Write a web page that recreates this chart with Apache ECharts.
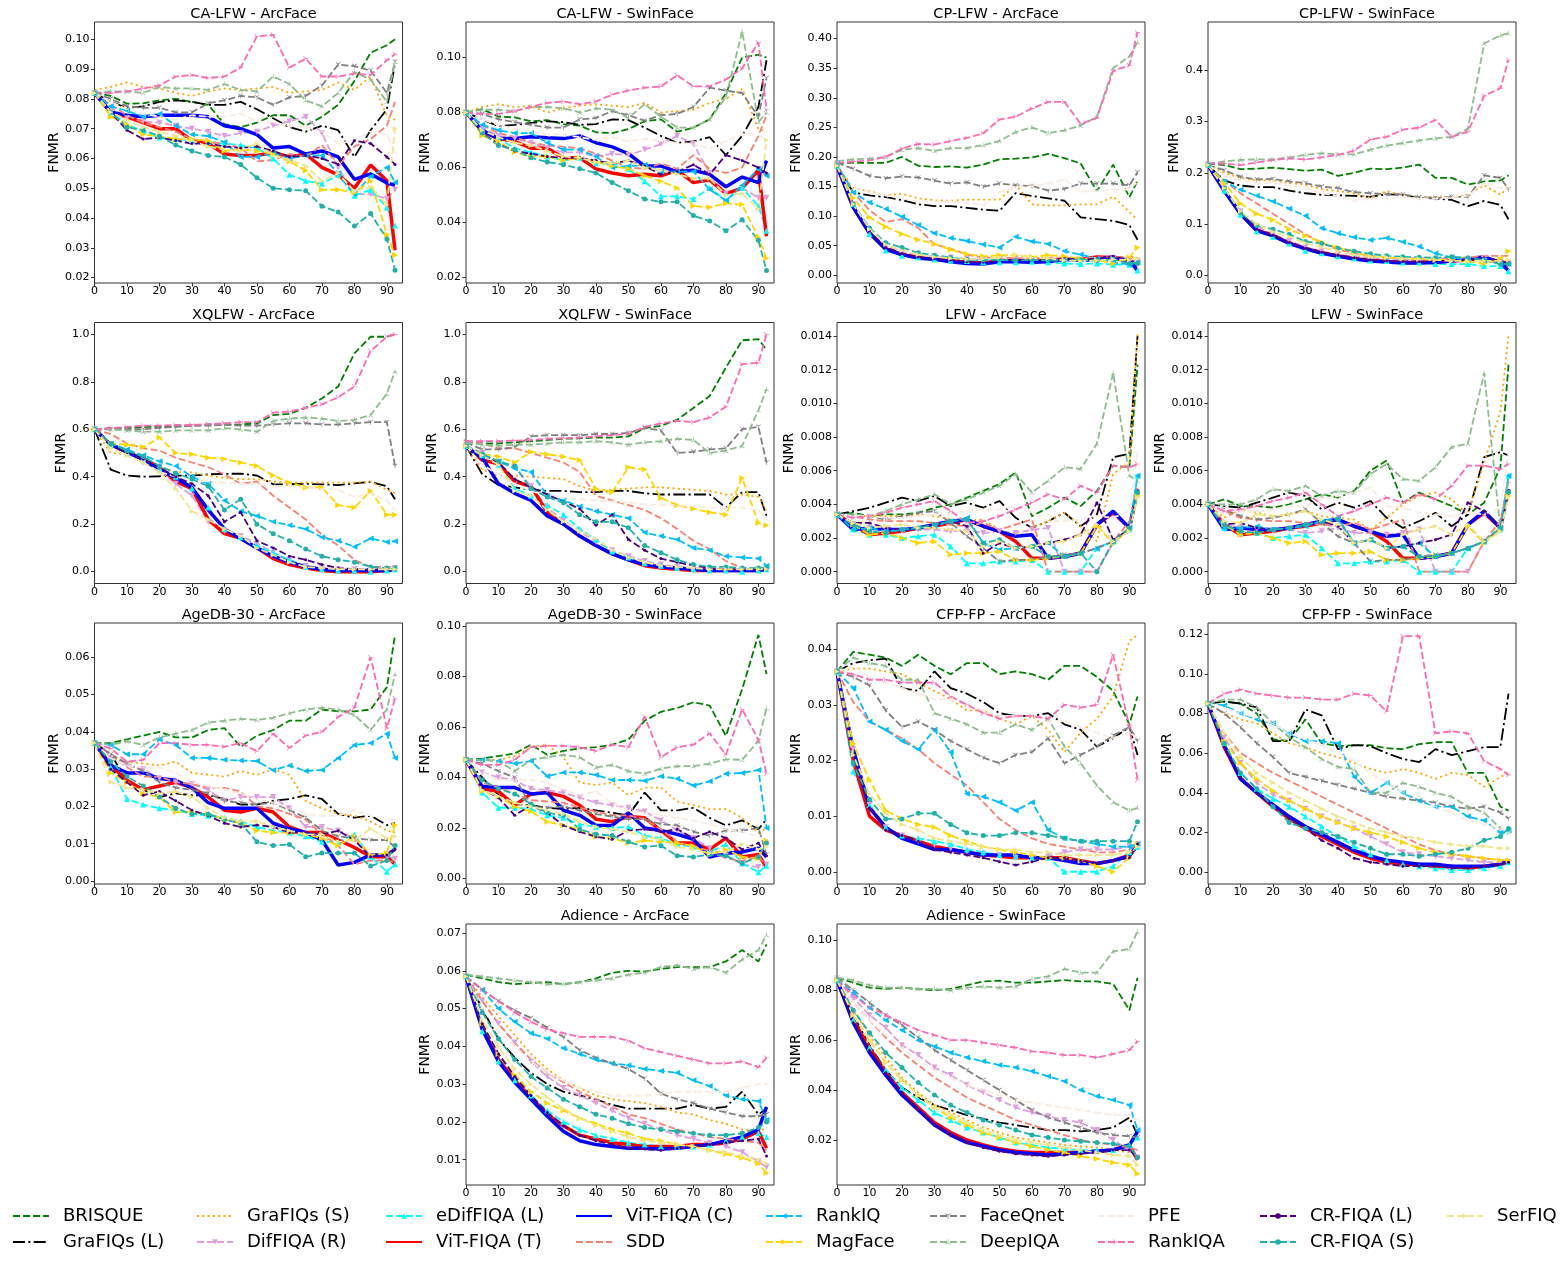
<!DOCTYPE html>
<html><head><meta charset="utf-8">
<script src="https://cdn.jsdelivr.net/npm/echarts@6.0.0/dist/echarts.min.js"></script>
<style>html,body{margin:0;padding:0;background:#fff}#c{width:1562px;height:1263px}</style>
</head><body><div id="c"></div><script>
const FONT = 'DejaVu Sans';
const rejectionRates = [0,5,10,15,20,25,30,35,40,45,50,55,60,65,70,75,80,85,90,92.5];
const methods = ['BRISQUE','GraFIQs (L)','GraFIQs (S)','DifFIQA (R)','eDifFIQA (L)','ViT-FIQA (T)','ViT-FIQA (C)','SDD','RankIQ','MagFace','FaceQnet','DeepIQA','PFE','RankIQA','CR-FIQA (L)','CR-FIQA (S)','SerFIQ'];
const xTickValues = [0,10,20,30,40,50,60,70,80,90];

const yTicks_CA_LFW_ArcFace = [0.02,0.03,0.04,0.05,0.06,0.07,0.08,0.09,0.10];
const yTicks_CA_LFW_SwinFace = [0.02,0.04,0.06,0.08,0.10];
const yTicks_CP_LFW_ArcFace = [0,0.05,0.10,0.15,0.20,0.25,0.30,0.35,0.40];
const yTicks_CP_LFW_SwinFace = [0,0.1,0.2,0.3,0.4];
const yTicks_XQLFW = [0,0.2,0.4,0.6,0.8,1.0];
const yTicks_LFW = [0,0.002,0.004,0.006,0.008,0.010,0.012,0.014];
const yTicks_AgeDB_ArcFace = [0,0.01,0.02,0.03,0.04,0.05,0.06];
const yTicks_AgeDB_SwinFace = [0,0.02,0.04,0.06,0.08,0.10];
const yTicks_CFP_FP_ArcFace = [0,0.01,0.02,0.03,0.04];
const yTicks_CFP_FP_SwinFace = [0,0.02,0.04,0.06,0.08,0.10,0.12];
const yTicks_Adience_ArcFace = [0.01,0.02,0.03,0.04,0.05,0.06,0.07];
const yTicks_Adience_SwinFace = [0.02,0.04,0.06,0.08,0.10];

// each row follows the order of `methods`
const CA_LFW_ArcFace = [
[0.082,0.081,0.0784,0.0785,0.0795,0.080,0.079,0.078,0.0715,0.0705,0.072,0.0745,0.0745,0.071,0.074,0.078,0.086,0.0955,0.098,0.100],
[0.082,0.079,0.077,0.0775,0.079,0.0795,0.079,0.078,0.078,0.079,0.0765,0.0735,0.0705,0.069,0.071,0.0695,0.0605,0.0695,0.0765,0.092],
[0.083,0.084,0.0855,0.084,0.0835,0.082,0.081,0.0825,0.0835,0.083,0.0835,0.084,0.082,0.0825,0.083,0.0855,0.083,0.0875,0.074,0.073],
[0.082,0.077,0.0735,0.0725,0.072,0.071,0.070,0.069,0.0675,0.0685,0.069,0.071,0.0725,0.074,0.0685,0.057,0.048,0.048,0.0465,0.0495],
[0.082,0.0755,0.0715,0.069,0.067,0.0665,0.066,0.0655,0.065,0.0645,0.0635,0.060,0.0545,0.0525,0.0515,0.0545,0.0475,0.0495,0.0435,0.0375],
[0.082,0.0755,0.074,0.072,0.070,0.070,0.066,0.065,0.0615,0.061,0.061,0.062,0.0605,0.0615,0.057,0.0545,0.050,0.0578,0.0525,0.0292],
[0.082,0.0755,0.0745,0.074,0.0745,0.0745,0.0745,0.074,0.071,0.070,0.068,0.0635,0.064,0.0615,0.0625,0.0605,0.053,0.0548,0.0518,0.051],
[0.082,0.078,0.0745,0.072,0.0705,0.069,0.0665,0.0655,0.065,0.0635,0.059,0.0595,0.0615,0.0605,0.0645,0.0575,0.064,0.0665,0.071,0.079],
[0.082,0.0775,0.076,0.074,0.075,0.071,0.068,0.0675,0.0655,0.0605,0.0605,0.062,0.060,0.061,0.061,0.055,0.048,0.054,0.057,0.052],
[0.082,0.074,0.0715,0.068,0.0675,0.0665,0.0665,0.066,0.0625,0.063,0.0625,0.0615,0.059,0.056,0.0495,0.0495,0.0485,0.0525,0.0345,0.0275],
[0.082,0.080,0.0775,0.077,0.077,0.0755,0.0755,0.0785,0.0795,0.081,0.0805,0.078,0.0805,0.081,0.0845,0.0915,0.091,0.0895,0.082,0.0925],
[0.082,0.0825,0.0825,0.082,0.084,0.0835,0.0835,0.083,0.085,0.083,0.0825,0.0875,0.085,0.0795,0.0775,0.082,0.089,0.0865,0.079,0.0925],
[0.082,0.079,0.0765,0.075,0.074,0.073,0.0745,0.074,0.074,0.075,0.0725,0.072,0.071,0.0705,0.069,0.065,0.066,0.069,0.068,0.062],
[0.082,0.082,0.0825,0.0835,0.0845,0.0875,0.088,0.087,0.0875,0.0905,0.101,0.1015,0.0905,0.0935,0.0875,0.0875,0.0885,0.088,0.093,0.095],
[0.082,0.0755,0.0695,0.0665,0.067,0.066,0.065,0.065,0.064,0.0635,0.064,0.0625,0.0605,0.061,0.060,0.058,0.066,0.065,0.0605,0.058],
[0.082,0.0755,0.0705,0.0695,0.0675,0.0645,0.0625,0.061,0.0605,0.058,0.0535,0.050,0.0495,0.0492,0.044,0.042,0.0373,0.0415,0.033,0.0225],
[0.082,0.0755,0.073,0.0705,0.069,0.0675,0.066,0.064,0.063,0.0625,0.065,0.061,0.0595,0.0575,0.0525,0.055,0.049,0.0505,0.0445,0.070]
];
const CA_LFW_SwinFace = [
[0.080,0.0812,0.0785,0.0782,0.0768,0.0772,0.0758,0.0752,0.0728,0.0725,0.074,0.0768,0.0775,0.073,0.0745,0.0775,0.087,0.100,0.101,0.100],
[0.080,0.0775,0.075,0.0755,0.0762,0.0768,0.0765,0.0755,0.0758,0.0775,0.0772,0.0745,0.0715,0.069,0.0695,0.071,0.0645,0.0715,0.082,0.099],
[0.080,0.082,0.083,0.082,0.0825,0.080,0.0815,0.0825,0.083,0.0825,0.082,0.0835,0.080,0.0805,0.081,0.0835,0.085,0.0885,0.074,0.073],
[0.080,0.0745,0.0715,0.0705,0.069,0.067,0.0655,0.0655,0.064,0.065,0.0645,0.0665,0.0685,0.0715,0.0685,0.058,0.0505,0.0525,0.049,0.049],
[0.080,0.0735,0.0705,0.067,0.0655,0.064,0.0625,0.0635,0.0615,0.0615,0.0595,0.055,0.0495,0.0495,0.0485,0.0525,0.048,0.0525,0.046,0.037],
[0.080,0.073,0.0705,0.0695,0.067,0.067,0.0635,0.0635,0.0595,0.058,0.057,0.0575,0.057,0.059,0.0545,0.0555,0.0505,0.0525,0.059,0.035],
[0.080,0.0735,0.0705,0.0705,0.0712,0.0708,0.0705,0.0715,0.069,0.0675,0.065,0.0605,0.0605,0.0585,0.059,0.0575,0.053,0.0565,0.0545,0.0625],
[0.080,0.0755,0.0725,0.071,0.069,0.068,0.0675,0.067,0.065,0.0625,0.060,0.0595,0.0615,0.0595,0.0645,0.0595,0.058,0.060,0.0715,0.079],
[0.080,0.0755,0.0735,0.0725,0.0725,0.069,0.0665,0.0665,0.064,0.060,0.0605,0.061,0.0585,0.0585,0.0585,0.052,0.048,0.0535,0.0595,0.057],
[0.080,0.0715,0.0695,0.0655,0.064,0.064,0.0625,0.0635,0.062,0.0605,0.0595,0.057,0.055,0.0525,0.046,0.0455,0.047,0.0465,0.0345,0.027],
[0.080,0.0795,0.0775,0.0765,0.0755,0.0745,0.0745,0.0775,0.078,0.0805,0.079,0.077,0.079,0.0795,0.082,0.089,0.088,0.087,0.0785,0.0925],
[0.080,0.081,0.081,0.0805,0.082,0.082,0.0815,0.080,0.0815,0.081,0.078,0.083,0.0785,0.0745,0.0745,0.0775,0.0855,0.1095,0.0765,0.080],
[0.080,0.0775,0.0755,0.074,0.073,0.072,0.072,0.071,0.070,0.071,0.0695,0.0705,0.0695,0.069,0.0685,0.067,0.0695,0.072,0.072,0.0695],
[0.080,0.0795,0.0795,0.0805,0.082,0.0835,0.084,0.083,0.084,0.0865,0.088,0.089,0.0895,0.0935,0.0895,0.0895,0.092,0.096,0.1055,0.081],
[0.080,0.0725,0.0685,0.066,0.065,0.064,0.0635,0.0635,0.0625,0.0615,0.0625,0.0605,0.0575,0.0585,0.061,0.0575,0.0645,0.0625,0.060,0.058],
[0.080,0.0725,0.068,0.0665,0.0635,0.062,0.061,0.0595,0.058,0.0545,0.0515,0.0485,0.0475,0.0475,0.0425,0.0405,0.037,0.041,0.0335,0.0225],
[0.080,0.0735,0.071,0.069,0.068,0.066,0.064,0.0635,0.062,0.0615,0.0625,0.060,0.059,0.0575,0.056,0.056,0.050,0.0505,0.045,0.070]
];
const CP_LFW_ArcFace = [
[0.19,0.19,0.19,0.19,0.20,0.185,0.183,0.184,0.182,0.187,0.196,0.197,0.199,0.205,0.198,0.189,0.142,0.187,0.132,0.16],
[0.185,0.14,0.135,0.132,0.127,0.12,0.117,0.117,0.114,0.111,0.109,0.139,0.134,0.13,0.126,0.098,0.095,0.092,0.085,0.06],
[0.185,0.148,0.142,0.135,0.138,0.13,0.127,0.126,0.128,0.128,0.128,0.153,0.12,0.118,0.118,0.12,0.12,0.133,0.107,0.094],
[0.185,0.12,0.075,0.05,0.04,0.035,0.032,0.03,0.028,0.027,0.027,0.028,0.026,0.025,0.024,0.025,0.026,0.028,0.024,0.025],
[0.185,0.12,0.07,0.042,0.033,0.03,0.027,0.025,0.024,0.022,0.022,0.022,0.023,0.022,0.02,0.019,0.02,0.018,0.018,0.008],
[0.185,0.115,0.072,0.045,0.035,0.03,0.027,0.025,0.022,0.021,0.024,0.024,0.023,0.025,0.027,0.027,0.031,0.03,0.022,0.017],
[0.185,0.115,0.071,0.044,0.035,0.029,0.027,0.023,0.02,0.019,0.023,0.023,0.022,0.023,0.027,0.025,0.027,0.031,0.025,0.008],
[0.19,0.14,0.11,0.09,0.095,0.08,0.052,0.045,0.035,0.03,0.03,0.029,0.028,0.03,0.03,0.029,0.03,0.031,0.031,0.03],
[0.19,0.14,0.123,0.112,0.099,0.085,0.071,0.063,0.058,0.052,0.047,0.065,0.057,0.053,0.041,0.035,0.028,0.022,0.018,0.022],
[0.185,0.13,0.098,0.082,0.07,0.06,0.053,0.043,0.036,0.032,0.034,0.034,0.031,0.034,0.032,0.028,0.026,0.02,0.03,0.047],
[0.19,0.18,0.168,0.164,0.167,0.165,0.16,0.155,0.157,0.15,0.155,0.152,0.151,0.143,0.146,0.155,0.155,0.155,0.152,0.174],
[0.193,0.196,0.197,0.2,0.212,0.215,0.21,0.215,0.215,0.22,0.227,0.242,0.25,0.24,0.245,0.253,0.268,0.35,0.37,0.394],
[0.19,0.15,0.14,0.135,0.13,0.125,0.125,0.125,0.122,0.118,0.14,0.15,0.15,0.155,0.162,0.142,0.142,0.145,0.145,0.158],
[0.19,0.192,0.194,0.2,0.214,0.222,0.221,0.227,0.232,0.24,0.263,0.268,0.282,0.293,0.293,0.256,0.266,0.345,0.355,0.41],
[0.185,0.12,0.075,0.047,0.037,0.031,0.028,0.026,0.023,0.022,0.025,0.026,0.025,0.026,0.028,0.027,0.028,0.032,0.026,0.022],
[0.185,0.12,0.08,0.055,0.047,0.038,0.034,0.03,0.027,0.026,0.026,0.025,0.026,0.025,0.025,0.026,0.025,0.027,0.02,0.02],
[0.185,0.12,0.078,0.052,0.042,0.035,0.031,0.029,0.027,0.028,0.03,0.035,0.03,0.029,0.025,0.024,0.025,0.027,0.026,0.028]
];
const CP_LFW_SwinFace = [
[0.218,0.215,0.207,0.208,0.21,0.207,0.204,0.206,0.194,0.2,0.208,0.207,0.21,0.216,0.19,0.19,0.177,0.183,0.185,0.195],
[0.215,0.185,0.175,0.172,0.172,0.165,0.16,0.157,0.156,0.155,0.153,0.158,0.157,0.151,0.15,0.147,0.135,0.145,0.137,0.109],
[0.215,0.2,0.19,0.185,0.185,0.18,0.177,0.168,0.164,0.16,0.151,0.164,0.157,0.152,0.153,0.152,0.157,0.176,0.157,0.172],
[0.215,0.17,0.125,0.095,0.08,0.067,0.055,0.047,0.04,0.037,0.034,0.032,0.03,0.03,0.03,0.028,0.03,0.033,0.027,0.025],
[0.215,0.165,0.118,0.086,0.075,0.062,0.048,0.043,0.037,0.033,0.029,0.028,0.025,0.025,0.022,0.022,0.022,0.018,0.018,0.008],
[0.215,0.165,0.12,0.088,0.078,0.063,0.052,0.044,0.038,0.033,0.029,0.027,0.025,0.025,0.026,0.028,0.03,0.033,0.025,0.02],
[0.215,0.165,0.12,0.087,0.077,0.062,0.052,0.043,0.037,0.032,0.028,0.026,0.024,0.024,0.025,0.028,0.032,0.036,0.025,0.009],
[0.215,0.185,0.16,0.14,0.12,0.1,0.08,0.063,0.05,0.043,0.038,0.035,0.033,0.033,0.033,0.033,0.035,0.038,0.038,0.038],
[0.215,0.183,0.167,0.155,0.144,0.13,0.116,0.092,0.082,0.074,0.069,0.073,0.065,0.056,0.043,0.035,0.03,0.029,0.022,0.022],
[0.215,0.18,0.14,0.12,0.108,0.09,0.077,0.064,0.054,0.045,0.037,0.035,0.033,0.032,0.03,0.03,0.027,0.023,0.032,0.047],
[0.215,0.205,0.192,0.187,0.188,0.183,0.18,0.173,0.17,0.162,0.16,0.158,0.158,0.152,0.151,0.153,0.153,0.195,0.19,0.168],
[0.218,0.222,0.225,0.226,0.226,0.23,0.235,0.238,0.236,0.236,0.245,0.253,0.258,0.263,0.267,0.27,0.286,0.452,0.468,0.472],
[0.215,0.195,0.185,0.18,0.18,0.175,0.17,0.16,0.155,0.145,0.15,0.15,0.152,0.15,0.15,0.152,0.155,0.18,0.17,0.17],
[0.218,0.218,0.215,0.22,0.225,0.228,0.226,0.23,0.235,0.243,0.265,0.27,0.284,0.288,0.303,0.27,0.28,0.35,0.365,0.42],
[0.215,0.17,0.122,0.09,0.078,0.064,0.053,0.045,0.039,0.034,0.03,0.028,0.027,0.027,0.028,0.028,0.03,0.034,0.028,0.025],
[0.215,0.17,0.122,0.097,0.09,0.08,0.066,0.062,0.053,0.047,0.042,0.038,0.036,0.035,0.034,0.036,0.034,0.03,0.022,0.022],
[0.215,0.17,0.125,0.1,0.085,0.075,0.063,0.055,0.047,0.04,0.037,0.035,0.033,0.032,0.03,0.028,0.028,0.028,0.028,0.03]
];
const XQLFW_ArcFace = [
[0.6,0.605,0.605,0.61,0.61,0.612,0.615,0.62,0.62,0.62,0.625,0.66,0.665,0.69,0.73,0.78,0.92,0.99,0.99,1.0],
[0.6,0.43,0.405,0.4,0.402,0.405,0.405,0.41,0.412,0.413,0.405,0.368,0.368,0.37,0.368,0.365,0.372,0.378,0.36,0.305],
[0.6,0.5,0.495,0.475,0.44,0.42,0.418,0.405,0.395,0.39,0.39,0.38,0.375,0.375,0.375,0.375,0.375,0.38,0.345,0.33],
[0.6,0.53,0.5,0.46,0.43,0.37,0.32,0.21,0.17,0.15,0.12,0.08,0.05,0.025,0.015,0.01,0.01,0.01,0.01,0.015],
[0.6,0.535,0.5,0.47,0.43,0.4,0.35,0.27,0.18,0.145,0.11,0.08,0.05,0.02,0.01,0.005,0.005,0.0,0.005,0.01],
[0.6,0.535,0.505,0.475,0.44,0.38,0.35,0.22,0.16,0.14,0.1,0.055,0.03,0.015,0.005,0.0,0.0,0.0,0.005,0.01],
[0.6,0.535,0.505,0.47,0.43,0.395,0.355,0.26,0.18,0.14,0.1,0.065,0.04,0.02,0.01,0.005,0.005,0.005,0.005,0.01],
[0.6,0.58,0.54,0.52,0.51,0.48,0.46,0.44,0.41,0.37,0.38,0.32,0.27,0.22,0.155,0.11,0.05,0.02,0.02,0.02],
[0.6,0.54,0.515,0.49,0.465,0.445,0.4,0.37,0.3,0.255,0.235,0.21,0.195,0.18,0.145,0.13,0.105,0.14,0.125,0.128],
[0.6,0.54,0.535,0.525,0.565,0.5,0.495,0.48,0.475,0.46,0.445,0.405,0.375,0.355,0.355,0.28,0.27,0.34,0.24,0.24],
[0.6,0.6,0.6,0.6,0.605,0.61,0.615,0.615,0.62,0.615,0.615,0.62,0.625,0.625,0.62,0.62,0.625,0.63,0.63,0.445],
[0.6,0.6,0.595,0.59,0.59,0.595,0.595,0.595,0.605,0.6,0.59,0.635,0.645,0.65,0.645,0.635,0.64,0.66,0.75,0.845],
[0.6,0.52,0.49,0.46,0.42,0.4,0.385,0.38,0.375,0.37,0.37,0.36,0.36,0.355,0.35,0.345,0.315,0.33,0.3,0.26],
[0.6,0.605,0.61,0.615,0.615,0.618,0.618,0.622,0.625,0.63,0.63,0.67,0.675,0.69,0.705,0.735,0.78,0.93,0.99,1.0],
[0.6,0.535,0.5,0.475,0.44,0.4,0.37,0.32,0.21,0.25,0.13,0.1,0.065,0.05,0.03,0.015,0.01,0.01,0.01,0.01],
[0.6,0.54,0.51,0.485,0.445,0.415,0.39,0.36,0.26,0.305,0.2,0.16,0.13,0.095,0.065,0.05,0.04,0.02,0.015,0.015],
[0.6,0.52,0.49,0.46,0.42,0.35,0.255,0.22,0.18,0.15,0.1,0.07,0.04,0.02,0.015,0.01,0.01,0.01,0.01,0.01]
];
const XQLFW_SwinFace = [
[0.545,0.54,0.54,0.545,0.55,0.555,0.56,0.562,0.565,0.565,0.57,0.605,0.615,0.64,0.69,0.74,0.86,0.975,0.98,0.935],
[0.53,0.41,0.365,0.355,0.345,0.34,0.34,0.335,0.335,0.34,0.34,0.33,0.325,0.325,0.325,0.325,0.27,0.335,0.335,0.235],
[0.53,0.43,0.405,0.405,0.4,0.395,0.39,0.36,0.34,0.345,0.35,0.355,0.355,0.35,0.345,0.34,0.325,0.325,0.315,0.26],
[0.53,0.5,0.46,0.44,0.36,0.27,0.215,0.17,0.125,0.09,0.065,0.045,0.03,0.02,0.015,0.01,0.01,0.01,0.01,0.01],
[0.53,0.49,0.45,0.35,0.32,0.28,0.24,0.18,0.135,0.085,0.06,0.035,0.025,0.015,0.01,0.005,0.005,0.0,0.005,0.01],
[0.53,0.47,0.455,0.38,0.36,0.25,0.2,0.15,0.11,0.075,0.05,0.025,0.015,0.01,0.005,0.005,0.005,0.005,0.005,0.01],
[0.525,0.48,0.37,0.33,0.3,0.235,0.2,0.15,0.11,0.075,0.05,0.03,0.02,0.015,0.01,0.005,0.005,0.005,0.005,0.01],
[0.545,0.54,0.52,0.52,0.5,0.48,0.46,0.42,0.32,0.3,0.28,0.26,0.225,0.18,0.13,0.095,0.045,0.015,0.015,0.015],
[0.53,0.49,0.465,0.435,0.42,0.32,0.3,0.275,0.255,0.24,0.225,0.165,0.15,0.135,0.1,0.09,0.065,0.06,0.055,0.025],
[0.53,0.495,0.485,0.46,0.505,0.495,0.485,0.47,0.35,0.335,0.44,0.43,0.31,0.28,0.265,0.25,0.24,0.395,0.205,0.195],
[0.545,0.515,0.515,0.525,0.57,0.575,0.575,0.575,0.58,0.58,0.585,0.605,0.595,0.5,0.505,0.515,0.52,0.6,0.61,0.46],
[0.545,0.535,0.53,0.535,0.535,0.54,0.545,0.545,0.55,0.545,0.535,0.545,0.55,0.56,0.555,0.5,0.51,0.53,0.68,0.77],
[0.53,0.45,0.41,0.37,0.34,0.32,0.31,0.305,0.3,0.295,0.29,0.285,0.28,0.28,0.275,0.27,0.27,0.27,0.26,0.22],
[0.55,0.55,0.55,0.552,0.555,0.56,0.562,0.565,0.57,0.575,0.58,0.61,0.625,0.635,0.63,0.65,0.695,0.875,0.88,1.0],
[0.53,0.49,0.46,0.39,0.355,0.325,0.295,0.265,0.195,0.24,0.135,0.09,0.055,0.04,0.025,0.015,0.01,0.01,0.01,0.01],
[0.53,0.495,0.465,0.445,0.35,0.315,0.29,0.24,0.21,0.21,0.185,0.11,0.08,0.05,0.03,0.02,0.02,0.015,0.015,0.015],
[0.53,0.49,0.45,0.34,0.32,0.26,0.21,0.17,0.14,0.09,0.06,0.04,0.025,0.02,0.015,0.01,0.01,0.01,0.01,0.01]
];
const LFW_ArcFace = [
[0.0034,0.0035,0.0033,0.0034,0.0034,0.0035,0.0038,0.004,0.0044,0.0048,0.0052,0.0059,0.0033,0.0038,0.0044,0.0039,0.0048,0.0063,0.0062,0.0123],
[0.0034,0.0036,0.0038,0.0041,0.0044,0.0042,0.0045,0.0039,0.0041,0.0038,0.0042,0.0032,0.0026,0.003,0.0035,0.0027,0.0034,0.0068,0.007,0.014],
[0.0034,0.0033,0.0033,0.0033,0.0033,0.0034,0.0033,0.0031,0.003,0.0031,0.0025,0.002,0.0026,0.003,0.0035,0.0027,0.0018,0.0058,0.0065,0.0141],
[0.0034,0.0028,0.0026,0.0025,0.0024,0.0025,0.0025,0.0024,0.0025,0.0023,0.0024,0.0023,0.0025,0.0026,0.0,0.0,0.0,0.0017,0.0025,0.0045],
[0.0034,0.0025,0.0022,0.0022,0.002,0.0021,0.0022,0.0015,0.0005,0.0005,0.0006,0.0006,0.0007,0.0,0.0,0.0,0.0014,0.0018,0.0025,0.0057],
[0.0034,0.0028,0.0022,0.0023,0.0024,0.0026,0.0027,0.0029,0.0031,0.0027,0.0024,0.0018,0.0008,0.0008,0.0009,0.0011,0.0028,0.0035,0.0026,0.0048],
[0.0034,0.0025,0.0026,0.0025,0.0025,0.0026,0.0028,0.003,0.0031,0.0027,0.0024,0.0021,0.0022,0.0008,0.0009,0.0011,0.0028,0.0036,0.0026,0.0049],
[0.0034,0.0033,0.0031,0.003,0.003,0.003,0.0029,0.0028,0.0027,0.0029,0.0025,0.0028,0.0031,0.0,0.0,0.0,0.0,0.0018,0.003,0.0051],
[0.0034,0.0025,0.0026,0.0024,0.0025,0.0026,0.0027,0.003,0.0032,0.0017,0.0013,0.0014,0.0015,0.0017,0.0009,0.0011,0.0014,0.0018,0.0026,0.0057],
[0.0034,0.0028,0.0022,0.0023,0.002,0.0017,0.0018,0.001,0.0011,0.0011,0.0012,0.0007,0.0007,0.0008,0.0009,0.0011,0.0027,0.0017,0.0025,0.0045],
[0.0034,0.0033,0.0033,0.0031,0.0033,0.0035,0.0036,0.0029,0.0021,0.0014,0.0006,0.0007,0.0007,0.0009,0.001,0.0011,0.0014,0.0018,0.0026,0.0047],
[0.0034,0.0034,0.0033,0.0036,0.004,0.0043,0.0046,0.004,0.0043,0.0047,0.0051,0.0058,0.0047,0.0054,0.0062,0.0061,0.0076,0.0118,0.0057,0.0054],
[0.0034,0.0033,0.0033,0.0032,0.0032,0.0033,0.0034,0.0035,0.0036,0.0037,0.0037,0.0039,0.0035,0.003,0.003,0.0031,0.0033,0.0032,0.0036,0.0071],
[0.0034,0.0032,0.0033,0.0035,0.0038,0.004,0.0042,0.0036,0.0029,0.003,0.0033,0.0037,0.0041,0.0046,0.0043,0.0051,0.0047,0.0063,0.0062,0.0064],
[0.0034,0.0029,0.0029,0.0026,0.0025,0.0026,0.0028,0.003,0.0027,0.0011,0.0017,0.0014,0.0015,0.0017,0.0019,0.0022,0.0041,0.0019,0.0025,0.0048],
[0.0034,0.0028,0.0024,0.0023,0.0025,0.0026,0.0028,0.003,0.0031,0.0017,0.0019,0.0014,0.0015,0.0009,0.0009,0.0011,0.0,0.0018,0.0026,0.0047],
[0.0034,0.0029,0.0026,0.0027,0.0028,0.0026,0.0026,0.0025,0.0024,0.0015,0.0018,0.0014,0.0015,0.0017,0.0018,0.0022,0.0028,0.0018,0.0024,0.0044]
];
const LFW_SwinFace = [
[0.004,0.0043,0.0039,0.0039,0.0038,0.004,0.0043,0.0046,0.0044,0.0048,0.006,0.0066,0.0041,0.0047,0.0043,0.0039,0.0034,0.0041,0.0062,0.0123],
[0.004,0.0039,0.0038,0.0041,0.0044,0.0047,0.0045,0.0037,0.0041,0.0038,0.0042,0.0032,0.0026,0.003,0.0035,0.0027,0.0034,0.0068,0.0071,0.0069],
[0.004,0.0032,0.0037,0.0035,0.0033,0.0034,0.0036,0.0033,0.0032,0.0031,0.0025,0.0032,0.004,0.0045,0.0047,0.0043,0.0034,0.0065,0.0095,0.0141],
[0.004,0.0028,0.0026,0.0025,0.0024,0.0025,0.0023,0.0024,0.0026,0.0023,0.0023,0.0022,0.0023,0.0025,0.0,0.0,0.0,0.0018,0.0025,0.0046],
[0.004,0.0026,0.0023,0.0023,0.002,0.0021,0.0022,0.0014,0.0005,0.0005,0.0006,0.0006,0.0007,0.0,0.0,0.0,0.0014,0.0018,0.0025,0.0057],
[0.004,0.0028,0.0022,0.0023,0.0024,0.0026,0.0027,0.0029,0.0031,0.0027,0.0024,0.0018,0.0008,0.0008,0.0009,0.0011,0.0028,0.0035,0.0026,0.0048],
[0.004,0.0025,0.0026,0.0025,0.0025,0.0026,0.0028,0.003,0.0031,0.0027,0.0024,0.0021,0.0022,0.0008,0.0009,0.0011,0.0028,0.0036,0.0026,0.0049],
[0.004,0.0036,0.0032,0.0031,0.003,0.003,0.0029,0.0028,0.0027,0.0029,0.0025,0.0028,0.0031,0.0,0.0,0.0,0.0,0.0018,0.003,0.0055],
[0.004,0.0026,0.0026,0.0027,0.0025,0.0026,0.0027,0.003,0.0032,0.0017,0.0019,0.0014,0.0015,0.0017,0.0009,0.0011,0.0014,0.0018,0.0026,0.0057],
[0.004,0.0028,0.0022,0.0023,0.002,0.0017,0.0018,0.001,0.0011,0.0011,0.0012,0.0007,0.0007,0.0008,0.0009,0.0011,0.0027,0.0017,0.0025,0.0045],
[0.004,0.0037,0.0033,0.0031,0.0032,0.0034,0.0037,0.0029,0.0021,0.0017,0.0006,0.0007,0.0007,0.0009,0.001,0.0011,0.0014,0.0018,0.0026,0.0047],
[0.004,0.004,0.004,0.0043,0.0049,0.0048,0.0051,0.0045,0.0048,0.0047,0.0058,0.0064,0.0055,0.0054,0.0062,0.0074,0.0076,0.0118,0.0025,0.0054],
[0.004,0.0037,0.0036,0.0036,0.0037,0.0039,0.0039,0.0043,0.0045,0.0047,0.005,0.0039,0.0038,0.0035,0.0034,0.0033,0.0035,0.0034,0.0038,0.0071],
[0.004,0.0036,0.0037,0.0039,0.0042,0.0044,0.0047,0.004,0.0033,0.0036,0.004,0.0044,0.0041,0.0046,0.0043,0.0051,0.0063,0.0063,0.0061,0.0064],
[0.004,0.0028,0.0029,0.0026,0.0025,0.0026,0.0028,0.003,0.0027,0.0017,0.0019,0.0014,0.0015,0.0017,0.0019,0.0022,0.0041,0.0036,0.0025,0.0048],
[0.004,0.0028,0.0024,0.0023,0.0025,0.0026,0.0028,0.003,0.0031,0.0017,0.0019,0.0014,0.0015,0.0009,0.0009,0.0011,0.0014,0.0018,0.0026,0.0047],
[0.004,0.003,0.0029,0.0034,0.0033,0.0034,0.0036,0.0031,0.0028,0.0017,0.0019,0.0014,0.0022,0.0025,0.0027,0.0022,0.0028,0.0018,0.0024,0.0044]
];
const AgeDB_30_ArcFace = [
[0.037,0.037,0.038,0.039,0.040,0.0385,0.0385,0.0405,0.041,0.036,0.039,0.0405,0.043,0.043,0.046,0.0455,0.0455,0.046,0.052,0.066],
[0.037,0.034,0.027,0.0245,0.0225,0.0235,0.023,0.023,0.022,0.0205,0.0205,0.0215,0.022,0.023,0.022,0.018,0.017,0.0175,0.015,0.0155],
[0.037,0.033,0.032,0.0315,0.031,0.032,0.029,0.0285,0.028,0.0295,0.0285,0.030,0.0285,0.0215,0.0195,0.018,0.0175,0.016,0.0135,0.013],
[0.037,0.033,0.031,0.030,0.0275,0.0265,0.026,0.0245,0.0215,0.0225,0.0225,0.0225,0.0195,0.0145,0.0145,0.0135,0.0115,0.0065,0.0065,0.006],
[0.037,0.0305,0.022,0.0205,0.0195,0.019,0.018,0.0175,0.017,0.016,0.0145,0.0135,0.013,0.012,0.0105,0.0105,0.0125,0.0065,0.0025,0.0045],
[0.037,0.031,0.027,0.0245,0.0255,0.0265,0.025,0.0225,0.019,0.0185,0.0195,0.0185,0.0145,0.013,0.013,0.011,0.009,0.0065,0.0065,0.0045],
[0.037,0.031,0.029,0.029,0.0275,0.027,0.025,0.021,0.0195,0.0195,0.0195,0.0155,0.014,0.013,0.011,0.0043,0.005,0.007,0.007,0.0085],
[0.037,0.034,0.0305,0.028,0.028,0.0265,0.026,0.025,0.025,0.024,0.020,0.0195,0.018,0.0165,0.0125,0.0095,0.0045,0.0055,0.0055,0.005],
[0.037,0.0365,0.034,0.034,0.038,0.0365,0.033,0.033,0.0325,0.0323,0.0322,0.0297,0.031,0.0295,0.0298,0.033,0.0365,0.037,0.0395,0.033],
[0.037,0.029,0.0265,0.0235,0.0225,0.0185,0.0185,0.018,0.0165,0.0155,0.0135,0.013,0.013,0.0125,0.0115,0.0095,0.012,0.007,0.0075,0.015],
[0.037,0.034,0.0315,0.0295,0.0265,0.025,0.0245,0.0235,0.0215,0.021,0.0205,0.021,0.019,0.017,0.0135,0.012,0.0115,0.011,0.011,0.009],
[0.037,0.0365,0.0375,0.0365,0.0385,0.0395,0.0405,0.0425,0.043,0.0435,0.0432,0.0438,0.045,0.046,0.0465,0.046,0.0445,0.0405,0.046,0.0555],
[0.037,0.033,0.031,0.0305,0.0305,0.029,0.0265,0.0255,0.0245,0.0235,0.022,0.021,0.0195,0.018,0.0175,0.0175,0.019,0.0175,0.0165,0.0165],
[0.037,0.0355,0.032,0.0325,0.037,0.037,0.0365,0.0365,0.036,0.037,0.0348,0.0395,0.0357,0.039,0.040,0.044,0.0465,0.060,0.041,0.049],
[0.037,0.030,0.0265,0.023,0.024,0.0215,0.019,0.0175,0.0155,0.0145,0.015,0.0145,0.013,0.013,0.0125,0.0135,0.011,0.0065,0.007,0.0085],
[0.037,0.032,0.028,0.0255,0.0225,0.0195,0.018,0.018,0.0165,0.0155,0.0105,0.0095,0.0098,0.0065,0.0075,0.0075,0.0075,0.004,0.0055,0.0095],
[0.037,0.0265,0.025,0.0245,0.0235,0.024,0.0225,0.0195,0.017,0.016,0.016,0.0145,0.0135,0.0125,0.0125,0.0105,0.011,0.014,0.0115,0.012]
];
const AgeDB_30_SwinFace = [
[0.047,0.0475,0.0485,0.0495,0.053,0.049,0.0505,0.0515,0.052,0.053,0.055,0.0625,0.066,0.0675,0.0698,0.0685,0.0565,0.075,0.0965,0.081],
[0.047,0.040,0.033,0.0295,0.029,0.028,0.0275,0.028,0.027,0.026,0.025,0.034,0.027,0.027,0.028,0.024,0.021,0.023,0.0195,0.0235],
[0.047,0.047,0.047,0.0485,0.052,0.053,0.048,0.038,0.037,0.038,0.033,0.036,0.036,0.0305,0.029,0.0275,0.0275,0.024,0.018,0.020],
[0.047,0.042,0.040,0.039,0.0355,0.035,0.034,0.032,0.030,0.029,0.028,0.0265,0.023,0.019,0.016,0.012,0.009,0.0055,0.0045,0.0055],
[0.047,0.034,0.028,0.028,0.0275,0.025,0.024,0.0215,0.0205,0.020,0.0205,0.017,0.016,0.0135,0.0125,0.0105,0.0135,0.006,0.0025,0.005],
[0.047,0.0355,0.0345,0.029,0.0335,0.034,0.0325,0.029,0.0235,0.0225,0.0245,0.024,0.019,0.014,0.014,0.0115,0.016,0.0085,0.0095,0.0045],
[0.047,0.0365,0.036,0.036,0.0335,0.034,0.027,0.025,0.021,0.021,0.026,0.020,0.019,0.0175,0.0155,0.0085,0.010,0.0105,0.012,0.0085],
[0.047,0.038,0.036,0.0335,0.031,0.0305,0.030,0.028,0.0265,0.025,0.025,0.0235,0.0195,0.0145,0.0125,0.011,0.008,0.007,0.0085,0.0055],
[0.047,0.047,0.0465,0.0455,0.0465,0.0405,0.042,0.042,0.041,0.039,0.039,0.0387,0.0405,0.0395,0.0368,0.0385,0.0415,0.0418,0.043,0.020],
[0.047,0.0345,0.0325,0.0285,0.0265,0.0225,0.021,0.0195,0.0165,0.016,0.014,0.015,0.0145,0.014,0.0128,0.0095,0.0115,0.0085,0.008,0.015],
[0.047,0.0455,0.0425,0.040,0.0285,0.028,0.0285,0.027,0.0255,0.0245,0.0235,0.0235,0.0215,0.021,0.0185,0.017,0.019,0.019,0.020,0.0095],
[0.047,0.047,0.0465,0.0425,0.047,0.048,0.049,0.048,0.044,0.045,0.0425,0.0415,0.0435,0.0445,0.0445,0.0455,0.0472,0.047,0.0545,0.0675],
[0.047,0.042,0.039,0.039,0.039,0.038,0.035,0.033,0.0345,0.030,0.027,0.026,0.025,0.024,0.023,0.0215,0.0195,0.0185,0.0165,0.0145],
[0.047,0.045,0.045,0.047,0.052,0.0525,0.0525,0.052,0.0505,0.053,0.052,0.064,0.048,0.052,0.053,0.0575,0.049,0.067,0.055,0.0415],
[0.047,0.0355,0.032,0.025,0.029,0.026,0.021,0.0185,0.0165,0.0155,0.019,0.0195,0.0185,0.0195,0.016,0.0185,0.016,0.0115,0.014,0.009],
[0.047,0.039,0.0355,0.0335,0.0295,0.026,0.025,0.0195,0.0175,0.017,0.0145,0.0125,0.013,0.009,0.0085,0.0095,0.009,0.006,0.0085,0.014],
[0.047,0.035,0.0325,0.030,0.0285,0.027,0.0255,0.0225,0.0205,0.0195,0.0185,0.0165,0.0155,0.0125,0.0115,0.010,0.0105,0.0135,0.0115,0.0125]
];
const CFP_FP_ArcFace = [
[0.036,0.0395,0.039,0.0385,0.037,0.039,0.037,0.0355,0.0375,0.0375,0.0355,0.036,0.0355,0.0345,0.037,0.037,0.035,0.0325,0.0265,0.0315],
[0.036,0.0375,0.038,0.0383,0.033,0.0325,0.036,0.033,0.032,0.0305,0.0285,0.028,0.028,0.0285,0.0265,0.0255,0.0225,0.024,0.026,0.021],
[0.036,0.0365,0.0365,0.036,0.0355,0.034,0.0325,0.031,0.029,0.029,0.0275,0.0265,0.028,0.0255,0.0215,0.025,0.0275,0.0315,0.0415,0.0425],
[0.036,0.022,0.012,0.008,0.0065,0.0055,0.0048,0.0042,0.0036,0.0033,0.003,0.0025,0.0025,0.0028,0.0035,0.004,0.004,0.004,0.0045,0.005],
[0.036,0.018,0.012,0.008,0.0065,0.006,0.0055,0.005,0.004,0.0035,0.003,0.0028,0.0025,0.0025,0.0,0.0,0.0,0.001,0.0035,0.0045],
[0.036,0.020,0.010,0.0075,0.0065,0.0055,0.0045,0.004,0.0035,0.003,0.0028,0.0025,0.0025,0.0025,0.0025,0.002,0.0015,0.002,0.003,0.0048],
[0.036,0.022,0.0115,0.008,0.006,0.005,0.004,0.004,0.0035,0.003,0.003,0.003,0.0025,0.0025,0.002,0.0015,0.0015,0.002,0.0028,0.0048],
[0.036,0.0305,0.027,0.0255,0.024,0.022,0.0195,0.0175,0.0155,0.0125,0.0095,0.0075,0.006,0.005,0.0045,0.004,0.0035,0.0035,0.004,0.005],
[0.036,0.033,0.027,0.0255,0.0235,0.022,0.0255,0.0215,0.014,0.0135,0.0125,0.011,0.0125,0.0075,0.006,0.0055,0.005,0.0045,0.0045,0.005],
[0.036,0.023,0.0165,0.011,0.0095,0.0085,0.008,0.0065,0.0055,0.0045,0.004,0.0035,0.003,0.0025,0.0025,0.002,0.001,0.0,0.0025,0.005],
[0.036,0.035,0.0335,0.029,0.026,0.027,0.0255,0.0235,0.022,0.0205,0.0195,0.021,0.0215,0.024,0.0195,0.021,0.0225,0.0245,0.026,0.0235],
[0.036,0.0385,0.0375,0.037,0.0345,0.0345,0.0285,0.0275,0.0265,0.025,0.025,0.0265,0.0255,0.0275,0.0225,0.0195,0.0155,0.0125,0.011,0.0115],
[0.036,0.037,0.035,0.034,0.033,0.032,0.031,0.031,0.030,0.029,0.028,0.028,0.028,0.027,0.027,0.026,0.025,0.024,0.025,0.024],
[0.036,0.0355,0.0345,0.0345,0.034,0.034,0.034,0.0315,0.030,0.0285,0.0275,0.028,0.028,0.0275,0.030,0.0295,0.030,0.039,0.026,0.0165],
[0.036,0.021,0.0115,0.0075,0.0065,0.0055,0.004,0.0035,0.003,0.0025,0.0018,0.0012,0.0018,0.0025,0.0025,0.002,0.0015,0.002,0.0025,0.005],
[0.036,0.0195,0.013,0.0095,0.0095,0.0105,0.0105,0.0085,0.007,0.0065,0.0065,0.007,0.007,0.0065,0.006,0.0055,0.0055,0.0055,0.0055,0.009],
[0.036,0.021,0.014,0.0105,0.0085,0.0075,0.006,0.0055,0.005,0.0045,0.004,0.004,0.0035,0.0035,0.003,0.003,0.003,0.003,0.0035,0.0045]
];
const CFP_FP_SwinFace = [
[0.085,0.086,0.085,0.080,0.067,0.066,0.077,0.065,0.0635,0.064,0.064,0.0625,0.062,0.0645,0.0655,0.0655,0.050,0.050,0.033,0.031],
[0.085,0.086,0.085,0.083,0.066,0.066,0.082,0.079,0.062,0.064,0.0635,0.060,0.057,0.0555,0.062,0.059,0.061,0.063,0.063,0.090],
[0.085,0.080,0.077,0.075,0.070,0.065,0.063,0.060,0.058,0.055,0.052,0.050,0.052,0.050,0.047,0.050,0.049,0.043,0.048,0.050],
[0.085,0.068,0.055,0.045,0.039,0.036,0.032,0.028,0.025,0.022,0.018,0.014,0.010,0.009,0.008,0.007,0.006,0.005,0.005,0.005],
[0.085,0.065,0.050,0.042,0.037,0.033,0.028,0.023,0.018,0.013,0.009,0.006,0.004,0.003,0.002,0.001,0.001,0.002,0.003,0.005],
[0.085,0.063,0.047,0.040,0.033,0.027,0.022,0.018,0.014,0.010,0.007,0.005,0.004,0.004,0.003,0.003,0.002,0.003,0.004,0.005],
[0.085,0.064,0.047,0.040,0.034,0.028,0.023,0.019,0.015,0.011,0.008,0.006,0.005,0.004,0.004,0.003,0.003,0.003,0.004,0.006],
[0.085,0.070,0.060,0.055,0.050,0.046,0.042,0.038,0.034,0.030,0.026,0.022,0.018,0.014,0.011,0.009,0.008,0.007,0.006,0.006],
[0.085,0.084,0.080,0.077,0.075,0.070,0.066,0.066,0.065,0.048,0.040,0.045,0.040,0.036,0.033,0.033,0.028,0.026,0.020,0.021],
[0.085,0.066,0.055,0.047,0.041,0.036,0.032,0.028,0.025,0.022,0.020,0.018,0.015,0.012,0.010,0.009,0.008,0.007,0.006,0.006],
[0.085,0.080,0.073,0.065,0.058,0.050,0.048,0.046,0.044,0.042,0.040,0.038,0.037,0.036,0.035,0.033,0.032,0.033,0.030,0.027],
[0.085,0.087,0.087,0.083,0.075,0.068,0.063,0.057,0.053,0.052,0.040,0.040,0.045,0.043,0.040,0.038,0.033,0.030,0.022,0.020],
[0.085,0.083,0.080,0.078,0.075,0.070,0.067,0.064,0.060,0.056,0.050,0.045,0.040,0.038,0.033,0.030,0.026,0.024,0.022,0.020],
[0.085,0.090,0.092,0.090,0.089,0.088,0.088,0.087,0.087,0.090,0.089,0.081,0.119,0.119,0.070,0.071,0.070,0.056,0.052,0.049],
[0.085,0.063,0.048,0.040,0.033,0.027,0.022,0.016,0.012,0.007,0.005,0.004,0.003,0.003,0.003,0.002,0.002,0.003,0.004,0.005],
[0.085,0.065,0.050,0.042,0.033,0.025,0.022,0.020,0.018,0.015,0.012,0.009,0.009,0.008,0.009,0.010,0.012,0.016,0.018,0.022],
[0.085,0.070,0.058,0.050,0.045,0.040,0.036,0.032,0.028,0.025,0.022,0.020,0.018,0.017,0.015,0.014,0.013,0.013,0.012,0.012]
];
const Adience_ArcFace = [
[0.059,0.058,0.057,0.0565,0.0568,0.057,0.0565,0.057,0.058,0.0595,0.060,0.0598,0.0605,0.061,0.061,0.061,0.0625,0.0655,0.0625,0.067],
[0.0585,0.050,0.042,0.037,0.033,0.030,0.028,0.027,0.026,0.0245,0.0235,0.0235,0.0235,0.0235,0.0245,0.0235,0.024,0.028,0.022,0.0235],
[0.0585,0.053,0.048,0.043,0.038,0.034,0.031,0.029,0.027,0.026,0.0255,0.025,0.024,0.0225,0.022,0.0205,0.0195,0.018,0.0175,0.0185],
[0.0585,0.052,0.046,0.041,0.036,0.032,0.029,0.027,0.025,0.023,0.021,0.0195,0.018,0.0165,0.0155,0.0145,0.0135,0.012,0.0095,0.008],
[0.0585,0.044,0.036,0.031,0.027,0.023,0.020,0.018,0.0165,0.0155,0.0145,0.014,0.0135,0.0135,0.0135,0.014,0.015,0.016,0.017,0.016],
[0.0585,0.045,0.0365,0.031,0.0265,0.022,0.019,0.0165,0.0155,0.0145,0.014,0.0135,0.0135,0.0135,0.014,0.014,0.0145,0.0155,0.0175,0.013],
[0.0585,0.0445,0.036,0.0305,0.026,0.0215,0.0175,0.015,0.014,0.0135,0.013,0.013,0.0128,0.013,0.0135,0.014,0.015,0.016,0.018,0.024],
[0.0585,0.052,0.046,0.041,0.0365,0.033,0.0305,0.028,0.026,0.024,0.022,0.021,0.0195,0.018,0.017,0.016,0.0155,0.015,0.0145,0.0125],
[0.0585,0.055,0.050,0.0465,0.0435,0.042,0.0395,0.038,0.0365,0.0355,0.035,0.034,0.0335,0.033,0.031,0.0295,0.027,0.026,0.0255,0.0205],
[0.0585,0.046,0.038,0.0325,0.028,0.025,0.023,0.021,0.0195,0.018,0.017,0.0155,0.015,0.014,0.0135,0.0125,0.0115,0.0105,0.009,0.0065],
[0.0585,0.055,0.052,0.0495,0.0475,0.045,0.0425,0.039,0.037,0.0355,0.034,0.0315,0.0275,0.026,0.025,0.0235,0.0225,0.0215,0.0215,0.022],
[0.059,0.0585,0.058,0.0575,0.057,0.0565,0.0565,0.057,0.0575,0.058,0.059,0.0595,0.061,0.0615,0.0605,0.061,0.0595,0.063,0.0655,0.0695],
[0.0585,0.050,0.044,0.040,0.036,0.033,0.031,0.029,0.028,0.027,0.027,0.027,0.0275,0.028,0.028,0.028,0.028,0.029,0.030,0.030],
[0.0585,0.055,0.052,0.049,0.0465,0.0445,0.0435,0.0425,0.0425,0.0425,0.0415,0.0395,0.0385,0.0375,0.0365,0.0355,0.0355,0.036,0.0345,0.037],
[0.0585,0.046,0.038,0.032,0.027,0.0225,0.019,0.0165,0.015,0.014,0.013,0.0128,0.0125,0.013,0.0135,0.014,0.0145,0.015,0.0155,0.011],
[0.0585,0.049,0.042,0.0365,0.032,0.029,0.026,0.024,0.022,0.021,0.0195,0.0185,0.018,0.0175,0.017,0.0165,0.0165,0.017,0.0185,0.020],
[0.0585,0.047,0.040,0.034,0.030,0.0265,0.0235,0.021,0.019,0.0175,0.016,0.015,0.0145,0.014,0.0135,0.0125,0.012,0.011,0.010,0.009]
];
const Adience_SwinFace = [
[0.085,0.083,0.081,0.0805,0.081,0.0805,0.080,0.0805,0.082,0.0835,0.0838,0.083,0.083,0.0835,0.084,0.0835,0.0835,0.0825,0.072,0.085],
[0.084,0.070,0.058,0.048,0.041,0.037,0.034,0.032,0.030,0.0285,0.027,0.026,0.025,0.024,0.024,0.0235,0.024,0.025,0.029,0.022],
[0.084,0.072,0.062,0.053,0.045,0.039,0.034,0.031,0.028,0.025,0.023,0.021,0.020,0.019,0.018,0.0175,0.017,0.016,0.015,0.015],
[0.084,0.077,0.070,0.065,0.058,0.054,0.049,0.046,0.042,0.039,0.036,0.033,0.031,0.0295,0.028,0.027,0.024,0.020,0.016,0.013],
[0.084,0.068,0.057,0.048,0.041,0.036,0.031,0.028,0.025,0.023,0.021,0.019,0.018,0.017,0.0165,0.016,0.016,0.016,0.018,0.021],
[0.084,0.068,0.057,0.047,0.039,0.033,0.027,0.023,0.020,0.018,0.0165,0.0155,0.015,0.015,0.015,0.015,0.0155,0.016,0.018,0.012],
[0.084,0.067,0.055,0.046,0.038,0.032,0.026,0.022,0.019,0.0175,0.016,0.015,0.0145,0.014,0.0145,0.015,0.0155,0.016,0.018,0.0235],
[0.084,0.075,0.068,0.061,0.055,0.050,0.045,0.041,0.037,0.034,0.031,0.028,0.026,0.024,0.022,0.020,0.019,0.018,0.017,0.016],
[0.084,0.079,0.073,0.068,0.064,0.060,0.0575,0.055,0.053,0.0515,0.050,0.049,0.0475,0.0455,0.0435,0.040,0.0375,0.036,0.034,0.024],
[0.084,0.070,0.060,0.051,0.044,0.038,0.033,0.029,0.026,0.023,0.021,0.019,0.0175,0.016,0.015,0.0135,0.0125,0.011,0.010,0.0065],
[0.085,0.080,0.075,0.070,0.066,0.061,0.056,0.052,0.048,0.044,0.040,0.036,0.032,0.029,0.027,0.025,0.023,0.022,0.0215,0.021],
[0.085,0.084,0.082,0.081,0.081,0.0805,0.0805,0.080,0.081,0.0815,0.081,0.0815,0.0845,0.0855,0.0885,0.087,0.087,0.0955,0.0965,0.1035],
[0.084,0.075,0.068,0.062,0.057,0.052,0.048,0.045,0.042,0.040,0.038,0.036,0.035,0.034,0.033,0.032,0.031,0.030,0.030,0.028],
[0.084,0.078,0.073,0.070,0.067,0.064,0.062,0.060,0.060,0.059,0.058,0.057,0.0555,0.055,0.054,0.054,0.053,0.0545,0.056,0.0595],
[0.084,0.067,0.056,0.047,0.039,0.032,0.026,0.022,0.019,0.017,0.0155,0.0145,0.014,0.0135,0.014,0.0145,0.015,0.016,0.016,0.013],
[0.084,0.072,0.063,0.055,0.049,0.043,0.038,0.034,0.031,0.028,0.026,0.024,0.022,0.021,0.020,0.0195,0.019,0.0185,0.0175,0.013],
[0.084,0.070,0.060,0.051,0.044,0.038,0.033,0.030,0.027,0.024,0.022,0.020,0.019,0.018,0.017,0.016,0.015,0.014,0.0135,0.010]
];

// ---------- layout & styling ----------
const colX = [94.5, 466, 837, 1208];
const rowY = [22, 322.5, 623, 924];
const PW = 308, PH = 261;
const panels = [
 {title:'CA-LFW - ArcFace', data:CA_LFW_ArcFace, c:0, r:0, ymin:0.0182, ymax:0.1058, ticks:yTicks_CA_LFW_ArcFace, dec:2},
 {title:'CA-LFW - SwinFace', data:CA_LFW_SwinFace, c:1, r:0, ymin:0.018, ymax:0.1129, ticks:yTicks_CA_LFW_SwinFace, dec:2},
 {title:'CP-LFW - ArcFace', data:CP_LFW_ArcFace, c:2, r:0, ymin:-0.013, ymax:0.428, ticks:yTicks_CP_LFW_ArcFace, dec:2},
 {title:'CP-LFW - SwinFace', data:CP_LFW_SwinFace, c:3, r:0, ymin:-0.015, ymax:0.494, ticks:yTicks_CP_LFW_SwinFace, dec:1},
 {title:'XQLFW - ArcFace', data:XQLFW_ArcFace, c:0, r:1, ymin:-0.05, ymax:1.05, ticks:yTicks_XQLFW, dec:1},
 {title:'XQLFW - SwinFace', data:XQLFW_SwinFace, c:1, r:1, ymin:-0.05, ymax:1.05, ticks:yTicks_XQLFW, dec:1},
 {title:'LFW - ArcFace', data:LFW_ArcFace, c:2, r:1, ymin:-0.0007, ymax:0.0148, ticks:yTicks_LFW, dec:3},
 {title:'LFW - SwinFace', data:LFW_SwinFace, c:3, r:1, ymin:-0.0007, ymax:0.0148, ticks:yTicks_LFW, dec:3},
 {title:'AgeDB-30 - ArcFace', data:AgeDB_30_ArcFace, c:0, r:2, ymin:-0.0008, ymax:0.0692, ticks:yTicks_AgeDB_ArcFace, dec:2},
 {title:'AgeDB-30 - SwinFace', data:AgeDB_30_SwinFace, c:1, r:2, ymin:-0.0022, ymax:0.1012, ticks:yTicks_AgeDB_SwinFace, dec:2},
 {title:'CFP-FP - ArcFace', data:CFP_FP_ArcFace, c:2, r:2, ymin:-0.0022, ymax:0.0447, ticks:yTicks_CFP_FP_ArcFace, dec:2},
 {title:'CFP-FP - SwinFace', data:CFP_FP_SwinFace, c:3, r:2, ymin:-0.006, ymax:0.1256, ticks:yTicks_CFP_FP_SwinFace, dec:2},
 {title:'Adience - ArcFace', data:Adience_ArcFace, c:1, r:3, ymin:0.0033, ymax:0.0724, ticks:yTicks_Adience_ArcFace, dec:2},
 {title:'Adience - SwinFace', data:Adience_SwinFace, c:2, r:3, ymin:0.002, ymax:0.1065, ticks:yTicks_Adience_SwinFace, dec:2}
];
const DASH = [7,3], DOT = [2,3.3], DASHDOT = [12,3.3,2.1,3.3];
const TRI = 'path://M4.4,0L5.6,0L5.6,5.1L9.9,7.6L9.3,8.6L5,6.1L0.7,8.6L0.1,7.6L4.4,5.1Z';
const styles = [
 {color:'#008000', dash:DASH, w:1.8, sym:'none'},
 {color:'#000000', dash:DASHDOT, w:1.8, sym:'none'},
 {color:'#FFA500', dash:DOT, w:1.8, sym:'none'},
 {color:'#DDA0DD', dash:DASH, w:1.8, sym:'triangle', rot:180, size:6},
 {color:'#00FFFF', dash:DASH, w:1.8, sym:'triangle', rot:0, size:6},
 {color:'#FF0000', dash:'solid', w:3.5, sym:'none'},
 {color:'#0000FF', dash:'solid', w:3.5, sym:'none'},
 {color:'#FA8072', dash:DASH, w:1.8, sym:'none'},
 {color:'#00BFFF', dash:DASH, w:1.8, sym:'triangle', rot:90, size:6},
 {color:'#FFD700', dash:DASH, w:1.8, sym:'triangle', rot:-90, size:6},
 {color:'#808080', dash:DASH, w:1.8, sym:TRI, rot:180, size:5},
 {color:'#8FBC8F', dash:DASH, w:1.8, sym:TRI, rot:0, size:5},
 {color:'#F8ECE3', dash:DASH, w:1.8, sym:TRI, rot:90, size:5},
 {color:'#FF69B4', dash:DASH, w:1.8, sym:TRI, rot:-90, size:5},
 {color:'#4B0082', dash:DASH, w:1.8, sym:'circle', size:3},
 {color:'#20B2AA', dash:DASH, w:1.8, sym:'circle', size:5},
 {color:'#F0E68C', dash:DASH, w:1.8, sym:'triangle', rot:-90, size:5}
];
const nameGapByDec = {1:25, 2:31, 3:37};

const grids = [], xAxes = [], yAxes = [], titles = [], series = [];
panels.forEach((p, i) => {
  const L = colX[p.c], T = rowY[p.r];
  grids.push({left:L, top:T, width:PW, height:PH, show:true, borderColor:'#333', borderWidth:1, backgroundColor:'rgba(0,0,0,0)'});
  xAxes.push({gridIndex:i, type:'value', min:0, max:94.8,
    axisLine:{show:false, onZero:false}, splitLine:{show:false},
    axisTick:{show:true, customValues:xTickValues, length:3.5, lineStyle:{color:'#333', width:1}},
    axisLabel:{customValues:xTickValues, fontSize:11, color:'#000', margin:3, fontFamily:FONT}});
  yAxes.push({gridIndex:i, type:'value', min:p.ymin, max:p.ymax,
    name:'FNMR', nameLocation:'middle', nameGap:nameGapByDec[p.dec],
    nameTextStyle:{fontSize:14, color:'#000', fontFamily:FONT},
    axisLine:{show:false, onZero:false}, splitLine:{show:false},
    axisTick:{show:true, customValues:p.ticks, length:3.5, lineStyle:{color:'#333', width:1}},
    axisLabel:{customValues:p.ticks, fontSize:11, color:'#000', margin:5, fontFamily:FONT,
      formatter:(v)=>Number(v).toFixed(p.dec)}});
  titles.push({text:p.title, left:L + PW/2, top:T - 20, textAlign:'center',
    textStyle:{fontSize:14.5, fontWeight:'normal', color:'#000', fontFamily:FONT}});
  methods.forEach((m, k) => {
    const s = styles[k];
    series.push({
      name:m, type:'line', xAxisIndex:i, yAxisIndex:i,
      data: rejectionRates.map((x, j) => [x, p.data[k][j]]),
      symbol:s.sym, symbolSize:s.size || 4, symbolRotate:s.rot || 0, showAllSymbol:true,
      lineStyle:{color:s.color, width:s.w, type:s.dash},
      itemStyle:{color:s.color},
      emphasis:{disabled:true}, silent:true, animation:false
    });
  });
});

const legendCols = [[0,1],[2,3],[4,5],[6,7],[8,9],[10,11],[12,13],[14,15],[16]];
const legendX = [12,196,385,575,765,929,1097,1259,1446];
const legends = legendCols.map((col, j) => ({
  orient:'vertical', left:legendX[j], top:1206, padding:0,
  itemWidth:36, itemHeight:7, itemGap:6, selectedMode:false,
  data: col.map(k => styles[k].sym === 'none'
      ? {name:methods[k], itemStyle:{opacity:0}}
      : {name:methods[k]}),
  textStyle:{fontSize:18, color:'#000', fontFamily:FONT, padding:[0,0,0,9], lineHeight:20}
}));

const chart = echarts.init(document.getElementById('c'), null, {renderer:'canvas'});
chart.setOption({
  backgroundColor:'#ffffff', animation:false,
  textStyle:{fontFamily:FONT},
  title: titles, grid: grids, xAxis: xAxes, yAxis: yAxes,
  legend: legends, series: series
});
</script></body></html>
